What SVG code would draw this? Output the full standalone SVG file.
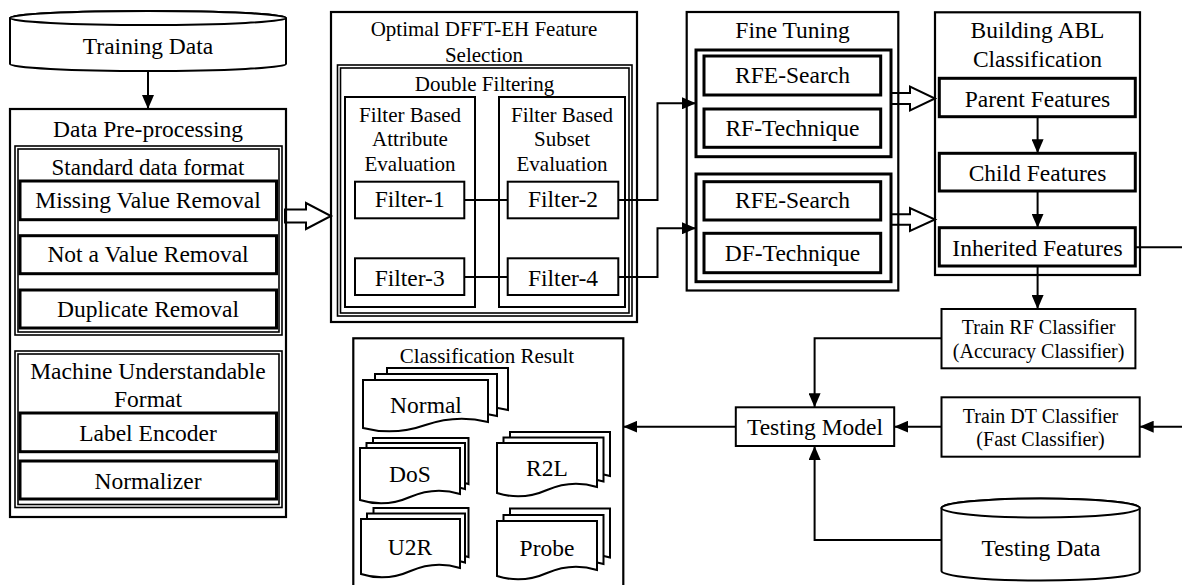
<svg xmlns="http://www.w3.org/2000/svg" width="1182" height="585" viewBox="0 0 1182 585">
<style>
.t{font-family:"Liberation Serif","DejaVu Serif",serif;font-size:23.5px;text-anchor:middle;fill:#000}
.m{font-size:21px}
.sm{font-size:20px}
.c{fill:none;stroke:#000;stroke-width:2.2}
.d{fill:none;stroke:#000;stroke-width:1.6}
.k{fill:none;stroke:#000;stroke-width:3}
.b{fill:none;stroke:#000;stroke-width:2}
.ln{fill:none;stroke:#000;stroke-width:2}
.ar{marker-end:url(#ah)}
.h{fill:#fff;stroke:#000;stroke-width:2;stroke-linejoin:miter}
.w{fill:#fff;stroke:#000;stroke-width:2}
</style>
<defs>
<marker id="ah" viewBox="0 0 14 12" refX="14" refY="6" markerWidth="14" markerHeight="12" markerUnits="userSpaceOnUse" orient="auto"><path d="M0,0L14,6L0,12z" fill="#000"/></marker>
</defs>
<rect width="1182" height="585" fill="#fff"/>
<g id="connectors">
<path class="ln ar" d="M148,71V109"/>
<path class="h" d="M285,209.5H306V203L331,216L306,229V222.5H285Z"/>
<path class="ln" d="M464.3,200H507.7"/>
<path class="ln" d="M464.3,277H507.7"/>
<path class="ln ar" d="M618.3,200H657.5V103.3H696"/>
<path class="ln ar" d="M618.3,277H657.5V228.3H696"/>
<path class="h" d="M891,93H910V86.5L935,98.5L910,110.5V104H891Z"/>
<path class="h" d="M891,214.3H910V208L935,219.5L910,231V224.7H891Z"/>
<path class="ln ar" d="M1037.6,116.7V153.3"/>
<path class="ln ar" d="M1037.6,191V227.7"/>
<path class="ln ar" d="M1037.6,266V309"/>
<path class="ln" d="M1135.3,247.3H1182"/>
<path class="ln ar" d="M1182,426.7H1139.7"/>
<path class="ln ar" d="M941.5,338.3H814.6V407.3"/>
<path class="ln ar" d="M941.5,426.7H894.2"/>
<path class="ln ar" d="M941.5,540H814.6V446"/>
<path class="ln ar" d="M735.8,426.7H623.3"/>
</g>
<g id="training-data">
<path class="w" d="M10,18L10,64A138,7 0 0 0 286,64L286,18A138,7 0 0 0 10,18Z"/>
<ellipse class="w" cx="148" cy="18" rx="138" ry="7"/>
<text class="t" x="148" y="54">Training Data</text>
</g>
<g id="data-preprocessing">
<rect class="c" x="10" y="109" width="276" height="408"/>
<text class="t" x="148" y="137">Data Pre-processing</text>
</g>
<g id="standard-data-format">
<rect class="d" x="15" y="146" width="267" height="189"/>
<rect class="d" x="18" y="149" width="261" height="183"/>
<text class="t" x="148" y="175" style="font-size:23px">Standard data format</text>
</g>
<g id="missing-value"><rect class="k" x="20" y="181" width="256.5" height="38.7"/><text class="t" x="148" y="208.3">Missing Value Removal</text></g>
<g id="not-a-value"><rect class="k" x="20" y="235.7" width="256.5" height="38"/><text class="t" x="148" y="262">Not a Value Removal</text></g>
<g id="duplicate"><rect class="k" x="20" y="290" width="256.5" height="38"/><text class="t" x="148" y="317">Duplicate Removal</text></g>
<g id="machine-format">
<rect class="d" x="15" y="351" width="267" height="156.5"/>
<rect class="d" x="18" y="354" width="261" height="150.5"/>
<text class="t" x="148" y="379">Machine Understandable</text>
<text class="t" x="148" y="406.5">Format</text>
</g>
<g id="label-encoder"><rect class="k" x="20" y="413" width="256.5" height="38.7"/><text class="t" x="148" y="440.5">Label Encoder</text></g>
<g id="normalizer"><rect class="k" x="20" y="461" width="256.5" height="38"/><text class="t" x="148" y="489">Normalizer</text></g>
<g id="optimal-selection">
<rect class="c" x="331" y="12" width="306" height="310"/>
<text class="t m" x="484" y="36">Optimal DFFT-EH Feature</text>
<text class="t m" x="484" y="61.7">Selection</text>
</g>
<g id="double-filtering">
<rect class="d" x="337.5" y="65" width="294.5" height="251"/>
<rect class="d" x="340.5" y="68" width="288.5" height="245"/>
<text class="t m" x="484.5" y="90.7">Double Filtering</text>
</g>
<g id="attribute-eval">
<rect class="b" x="345" y="97" width="130" height="210"/>
<text class="t m" x="410" y="121.7">Filter Based</text>
<text class="t m" x="410" y="145.7">Attribute</text>
<text class="t m" x="410" y="170.7">Evaluation</text>
</g>
<g id="subset-eval">
<rect class="b" x="499" y="97" width="126" height="210"/>
<text class="t m" x="562" y="121.7">Filter Based</text>
<text class="t m" x="562" y="145.7">Subset</text>
<text class="t m" x="562" y="170.7">Evaluation</text>
</g>
<g id="filter-1"><rect class="b" x="355" y="181.7" width="109.3" height="36.6"/><text class="t" x="409.7" y="207.3">Filter-1</text></g>
<g id="filter-2"><rect class="b" x="507.7" y="181.7" width="110.6" height="36.6"/><text class="t" x="563" y="207.3">Filter-2</text></g>
<g id="filter-3"><rect class="b" x="355" y="258.3" width="109.3" height="36.7"/><text class="t" x="409.7" y="285.5">Filter-3</text></g>
<g id="filter-4"><rect class="b" x="507.7" y="258.3" width="110.6" height="36.7"/><text class="t" x="563" y="285.5">Filter-4</text></g>
<g id="fine-tuning">
<rect class="c" x="686.7" y="12" width="211.6" height="278.5"/>
<text class="t" x="792.5" y="38.3">Fine Tuning</text>
</g>
<g id="ft-group-1"><rect class="k" x="696" y="50" width="195" height="106.7"/></g>
<g id="rfe-search-1"><rect class="k" x="704" y="56" width="176.7" height="39"/><text class="t" x="792.5" y="83.3">RFE-Search</text></g>
<g id="rf-technique"><rect class="k" x="704" y="109" width="176.7" height="38.3"/><text class="t" x="792.5" y="136">RF-Technique</text></g>
<g id="ft-group-2"><rect class="k" x="696" y="174" width="195" height="107.7"/></g>
<g id="rfe-search-2"><rect class="k" x="704" y="181.7" width="176.7" height="38.3"/><text class="t" x="792.5" y="208.3">RFE-Search</text></g>
<g id="df-technique"><rect class="k" x="704" y="233.3" width="176.7" height="39.4"/><text class="t" x="792.5" y="261">DF-Technique</text></g>
<g id="building-abl">
<rect class="c" x="935" y="12.3" width="205" height="262.7"/>
<text class="t" x="1037.5" y="38.3">Building ABL</text>
<text class="t" x="1037.5" y="66.7">Classification</text>
</g>
<g id="parent-features"><rect class="k" x="939.3" y="78.3" width="196" height="38.4"/><text class="t" x="1037.5" y="106.7">Parent Features</text></g>
<g id="child-features"><rect class="k" x="939.3" y="153.3" width="196" height="37.7"/><text class="t" x="1037.5" y="181">Child Features</text></g>
<g id="inherited-features"><rect class="k" x="939.3" y="227.7" width="196" height="38.3"/><text class="t" x="1037.5" y="255.7">Inherited Features</text></g>
<g id="train-rf"><rect class="b" x="941.5" y="309" width="193.9" height="59.3"/><text class="t sm" x="1038.6" y="334">Train RF Classifier</text><text class="t sm" x="1038.6" y="358.3">(Accuracy Classifier)</text></g>
<g id="train-dt"><rect class="b" x="941.5" y="397.3" width="198.2" height="59.4"/><text class="t sm" x="1040.5" y="422.7">Train DT Classifier</text><text class="t sm" x="1040.5" y="446">(Fast Classifier)</text></g>
<g id="testing-model"><rect class="b" x="735.8" y="407.3" width="158.4" height="38.7"/><text class="t" x="815" y="435">Testing Model</text></g>
<g id="testing-data">
<path class="w" d="M941.5,508L941.5,571A99.1,9.5 0 0 0 1139.7,571L1139.7,508A99.1,9.5 0 0 0 941.5,508Z"/>
<ellipse class="w" cx="1040.6" cy="508" rx="99.1" ry="9.5"/>
<text class="t" x="1041" y="556">Testing Data</text>
</g>
<g id="classification-result">
<rect class="c" x="353.3" y="338.3" width="270" height="260"/>
<text class="t m" x="487" y="363.3">Classification Result</text>
</g>
<g id="normal">
<path class="w" d="M387,368H508V410Q477.75,402 447.5,413T387,416Z"/>
<path class="w" d="M375,374H497V416Q466.5,408 436,419T375,422Z"/>
<path class="w" d="M363,380H488V422Q456.75,414 425.5,425T363,428Z"/>
<text class="t" x="426" y="412.7">Normal</text>
</g>
<g id="dos">
<path class="w" d="M373,438H468.5V484Q444.6,476 420.75,487T373,490Z"/>
<path class="w" d="M366.5,443H465V489Q440.4,481 415.75,492T366.5,495Z"/>
<path class="w" d="M360,448H460V494Q435,486 410,497T360,500Z"/>
<text class="t" x="410" y="481.7">DoS</text>
</g>
<g id="r2l">
<path class="w" d="M510,432H610V476Q585,468 560,479T510,482Z"/>
<path class="w" d="M503.5,437.5H603.5V481.5Q578.5,473.5 553.5,484.5T503.5,487.5Z"/>
<path class="w" d="M497,443H597V487Q572,479 547,490T497,493Z"/>
<text class="t" x="547" y="475.7">R2L</text>
</g>
<g id="u2r">
<path class="w" d="M373.5,508H468.5V557Q444.75,549 421,560T373.5,563Z"/>
<path class="w" d="M367,513.5H465V562.5Q440.5,554.5 416,565.5T367,568.5Z"/>
<path class="w" d="M361,519H460V568Q435.25,560 410.5,571T361,574Z"/>
<text class="t" x="410" y="555">U2R</text>
</g>
<g id="probe">
<path class="w" d="M510,508.5H610V557.5Q585,549.5 560,560.5T510,563.5Z"/>
<path class="w" d="M503.5,515H603.5V564Q578.5,556 553.5,567T503.5,570Z"/>
<path class="w" d="M497,521H597V570Q572,562 547,573T497,576Z"/>
<text class="t" x="547" y="556">Probe</text>
</g>
</svg>
